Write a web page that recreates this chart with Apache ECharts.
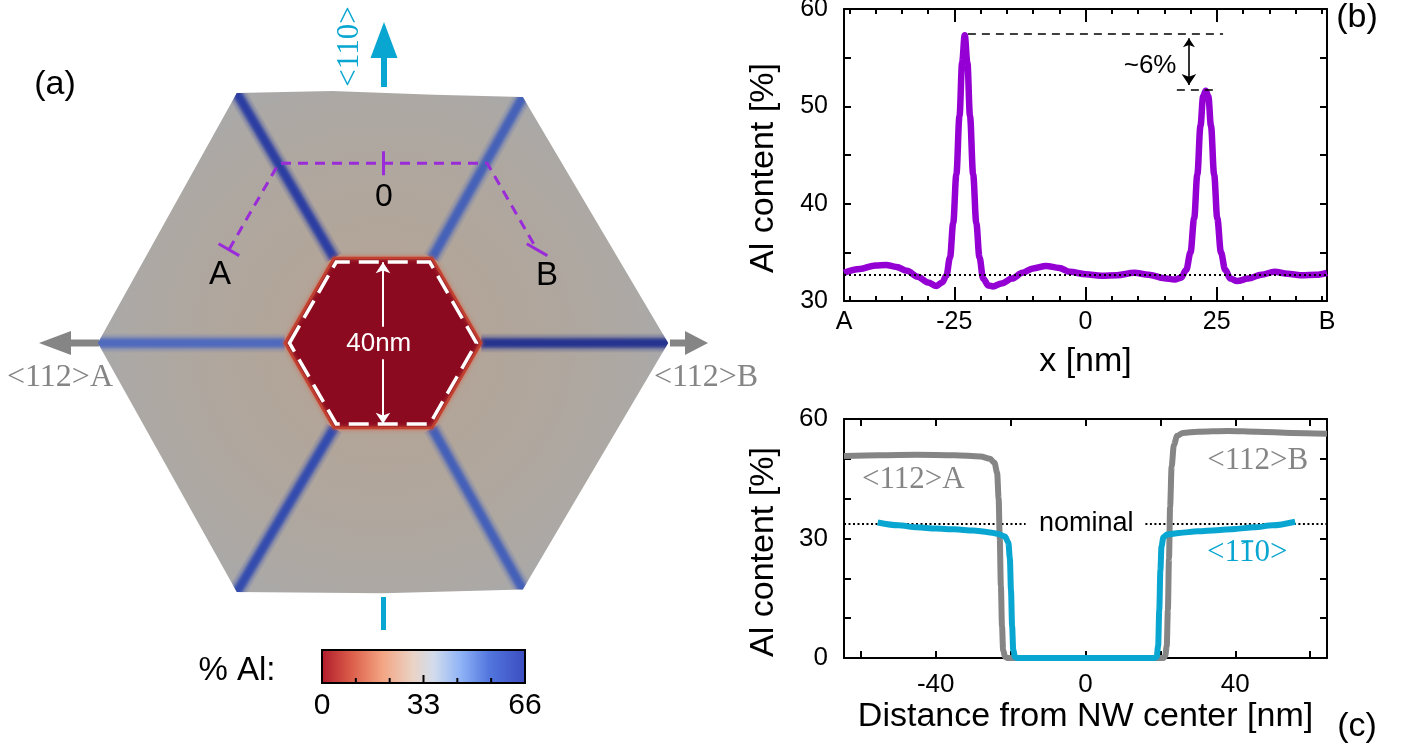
<!DOCTYPE html>
<html>
<head>
<meta charset="utf-8">
<script src="https://cdn.jsdelivr.net/npm/echarts@6/dist/echarts.min.js"></script>
<style>
  html, body { margin: 0; background: #fff; }
  #chart { width: 1406px; height: 749px; }
</style>
</head>
<body>
<div id="chart"></div>
<script>
const SANS = "'Liberation Sans', Arial, Helvetica, sans-serif";
const SERIF = "'Liberation Serif', 'Times New Roman', Times, serif";
const PURPLE = '#9400d3';
const CYAN = '#08a6d0';
const GREY = '#858585';

// (b) Al content along the dashed path A - 0 - B
const abX = [-46, -43, -40, -38, -36, -34, -32, -30, -28.4, -27.3, -26.5, -25.8, -25.2, -24.6, -24.0, -23.5, -23.0,
  -22.5, -22.0, -21.4, -20.8, -20.2, -19.5, -18.5, -17.6, -16, -14, -12, -10, -7.5, -5, -3, 0, 3, 6, 9.3, 12, 15,
  17, 18.2, 19.2, 20.0, 20.7, 21.3, 21.9, 22.4, 22.9, 23.4, 23.9, 24.5, 25.1, 25.8, 26.6, 27.6, 28.9, 31, 33.5,
  36, 38.5, 41, 44, 46];
const abAl = [32.9, 33.3, 33.65, 33.7, 33.5, 33.1, 32.5, 31.9, 31.55, 31.9, 32.6, 34.5, 38, 43, 49, 54.5, 57.3,
  54.5, 49, 43, 38, 34.5, 32.3, 31.6, 31.5, 31.8, 32.3, 32.9, 33.35, 33.6, 33.4, 33.0, 32.75, 32.6, 32.65, 32.9,
  32.7, 32.35, 32.2, 32.4, 33.2, 35, 38.5, 43, 48, 51, 51.6, 51, 48, 43, 38.5, 35, 33.2, 32.3, 32.05, 32.3, 32.7,
  33.0, 32.8, 32.65, 32.7, 32.9];
const abNominal = 32.7;
const abRange = [-46, 46];
const abLabelAt = [-46, -25, 0, 25, 46];
const abLabelText = ['A', '-25', '0', '25', 'B'];
const abMinorTicks = [-45, -40, -35, -30, -25, -20, -15, -10, -5, 0, 5, 10, 15, 20, 25, 30, 35, 40, 45];
const abMajorTicks = [-25, 0, 25];
const abPeakGuides = [[[-22.4, 57.43], [26.2, 57.43]], [[17.4, 51.74], [25.0, 51.74]]];
const abDiffArrow = [[19.7, 57.0], [19.7, 52.2]];

// (c) Al content from the wire centre
const r112X = [-64.5, -55, -45, -35, -28, -25.5, -24.3, -23.6, -23.2, -22.9, -22.6, -22.3, -22.0, -21.5, -20.8,
  20.8, 21.3, 21.7, 22.0, 22.3, 22.6, 23.0, 23.6, 24.5, 26, 30, 38, 46, 55, 64.5];
const r112Al = [50.7, 50.9, 51.0, 50.9, 50.6, 50.0, 49.0, 46.5, 40, 30, 18, 8, 2, 0.3, 0,
  0, 0.5, 3, 12, 25, 38, 48, 53.5, 55.8, 56.5, 56.8, 57.0, 56.8, 56.5, 56.3];
const r110X = [-55.5, -50, -45, -40, -35, -30, -26, -23.5, -21.5, -20.6, -20.2, -19.9, -19.6, -19.3, -18.8, -18.2,
  18.5, 19.0, 19.4, 19.7, 20.0, 20.3, 20.8, 21.8, 25, 30, 35, 40, 45, 50, 56];
const r110Al = [34.0, 33.3, 32.8, 32.5, 32.3, 32.0, 31.6, 31.2, 30.5, 29, 25, 17, 8, 2, 0.2, 0,
  0, 0.3, 3, 12, 22, 28, 30.3, 31.0, 31.4, 31.8, 32.1, 32.4, 32.8, 33.3, 34.2];
const rNominal = 33.7;
const rNominalGap = [-16, 16];
const rRange = [-64.5, 64.5];
const rTicks = [-60, -40, -20, 0, 20, 40, 60];
const rLabels = [-40, 0, 40];

// (a) cross-section, nm from the wire centre; vertex order L, TL, TR, R, BR, BL
const outerVerts = [[-67.1, 0], [-34.4, 58.8], [32.9, 57.9], [67.1, 0], [32.9, -58.0], [-34.4, -58.6]];
const innerVerts = [[-23.1, 0], [-11.55, 20], [11.55, 20], [23.1, 0], [11.55, -20], [-11.55, -20]];
const dashedCore = [[-22.0, 0], [-11.0, 19.05], [11.0, 19.05], [22.0, 0], [11.0, -19.05], [-11.0, -19.05]];
const edgeBends = [[], [[-12, 59.3], [12, 58.4]], [], [], [[0, -58.9]], []];
const stripeColors = ['#4f69bd', '#2c3ea2', '#4561b8', '#26348f', '#4560b8', '#344cae'];
const scanPath = [[-36.25, 21.95], [-24.5, 42.3], [24.5, 42.3], [36.25, 21.95]];
const scanCaps = [
  [[-38.67, 23.35], [-33.83, 20.55]],
  [[33.83, 23.35], [38.67, 20.55]],
  [[0, 45.1], [0, 39.5]]
];
const sizeArrows = [[[0, 3.8], [0, 19.0]], [[0, -3.8], [0, -19.0]]];
const colorbarTicks = ['0', '33', '66'];

const axisLine = { show: true, onZero: false, lineStyle: { color: '#000', width: 2 } };
const noLine = { show: false, onZero: false };
const noSplit = { show: false };

function tick(values, len) {
  return { show: true, inside: true, length: len, customValues: values, lineStyle: { color: '#000', width: 2 } };
}

function plainAxis(grid, pos, range, ticks, len, showLine) {
  return {
    gridIndex: grid, type: 'value', position: pos, min: range[0], max: range[1],
    axisLine: showLine ? axisLine : noLine, splitLine: noSplit,
    axisTick: tick(ticks, len), axisLabel: { show: false }
  };
}

function textSeries(xi, yi, items) {
  return {
    type: 'custom', xAxisIndex: xi, yAxisIndex: yi, silent: true, clip: false, z: 20,
    data: items.map(t => [t.x, t.y]),
    renderItem: (params, api) => {
      const t = items[params.dataIndex];
      const p = api.coord([api.value(0), api.value(1)]);
      const children = [{
        type: 'text', x: p[0], y: p[1],
        style: { text: t.text, fontSize: t.size, fontFamily: t.font || SANS, fill: t.color || '#000',
          align: 'center', verticalAlign: 'middle' }
      }];
      if (t.bar) {
        children.push({ type: 'line', shape: { x1: p[0] - 6, y1: p[1] - 12, x2: p[0] + 6, y2: p[1] - 12 },
          style: { stroke: t.color, lineWidth: 2 } });
      }
      return { type: 'group', children };
    }
  };
}

function segSeries(xi, yi, segs, style, extra) {
  return Object.assign({
    type: 'lines', coordinateSystem: 'cartesian2d', xAxisIndex: xi, yAxisIndex: yi, silent: true,
    data: segs.map(s => ({ coords: s })), lineStyle: Object.assign({ opacity: 1, curveness: 0 }, style),
    symbol: 'none', z: 5
  }, extra || {});
}

function rgba(hex, a) {
  const n = parseInt(hex.slice(1), 16);
  return 'rgba(' + (n >> 16) + ',' + ((n >> 8) & 255) + ',' + (n & 255) + ',' + a + ')';
}

function shellOutline() {
  const pts = [];
  outerVerts.forEach((v, i) => { pts.push(v); edgeBends[i].forEach(b => pts.push(b)); });
  return pts;
}

function label(text, x, y, size, extra) {
  return {
    type: 'text', x, y, rotation: (extra && extra.rotation) || 0,
    style: { text, fontSize: size, fontFamily: (extra && extra.font) || SANS, fill: (extra && extra.color) || '#000',
      align: 'center', verticalAlign: 'middle' }
  };
}

const pair = (xs, ys) => xs.map((x, i) => [x, ys[i]]);

const option = {
  animation: false,
  backgroundColor: '#fff',
  grid: [
    { left: 844, top: 9, width: 483, height: 292, outerBoundsMode: 'none' },
    { left: 844, top: 419, width: 483, height: 239, outerBoundsMode: 'none' },
    { left: 21.75, top: 3, width: 722.5, height: 680, outerBoundsMode: 'none' }
  ],
  xAxis: [
    {
      gridIndex: 0, type: 'value', position: 'bottom', min: abRange[0], max: abRange[1],
      axisLine, splitLine: noSplit, axisTick: tick(abMinorTicks, 5),
      axisLabel: {
        customValues: abLabelAt, formatter: v => abLabelText[abLabelAt.indexOf(v)],
        fontSize: 25, color: '#000', fontFamily: SANS, margin: 9, showMinLabel: true, showMaxLabel: true
      },
      name: 'x [nm]', nameLocation: 'middle', nameGap: 44,
      nameTextStyle: { fontSize: 34, color: '#000', fontFamily: SANS }
    },
    plainAxis(0, 'bottom', abRange, abMajorTicks, 14, false),
    plainAxis(0, 'top', abRange, abMinorTicks, 5, true),
    plainAxis(0, 'top', abRange, abMajorTicks, 13, false),
    {
      gridIndex: 1, type: 'value', position: 'bottom', min: rRange[0], max: rRange[1],
      axisLine, splitLine: noSplit, axisTick: tick(rTicks, 7),
      axisLabel: { customValues: rLabels, fontSize: 26, color: '#000', fontFamily: SANS, margin: 14 },
      name: 'Distance from NW center [nm]', nameLocation: 'middle', nameGap: 42,
      nameTextStyle: { fontSize: 34, color: '#000', fontFamily: SANS }
    },
    plainAxis(1, 'top', rRange, rTicks, 7, true),
    { gridIndex: 2, type: 'value', min: -85, max: 85, show: false }
  ],
  yAxis: [
    {
      gridIndex: 0, type: 'value', position: 'left', min: 30, max: 60, interval: 5,
      axisLine, splitLine: noSplit, axisTick: { show: true, inside: true, length: 7, lineStyle: { color: '#000', width: 2 } },
      axisLabel: { formatter: v => (v % 10 === 0 ? String(v) : ''), fontSize: 25, color: '#000', fontFamily: SANS, margin: 16 }
    },
    {
      gridIndex: 0, type: 'value', position: 'right', min: 30, max: 60, interval: 5,
      axisLine, splitLine: noSplit, axisTick: { show: true, inside: true, length: 7, lineStyle: { color: '#000', width: 2 } },
      axisLabel: { show: false }
    },
    {
      gridIndex: 1, type: 'value', position: 'left', min: 0, max: 60, interval: 10,
      axisLine, splitLine: noSplit, axisTick: { show: true, inside: true, length: 7, lineStyle: { color: '#000', width: 2 } },
      axisLabel: { formatter: v => (v % 30 === 0 ? String(v) : ''), fontSize: 26, color: '#000', fontFamily: SANS, margin: 16 }
    },
    {
      gridIndex: 1, type: 'value', position: 'right', min: 0, max: 60, interval: 10,
      axisLine, splitLine: noSplit, axisTick: { show: true, inside: true, length: 7, lineStyle: { color: '#000', width: 2 } },
      axisLabel: { show: false }
    },
    { gridIndex: 2, type: 'value', min: -80, max: 80, show: false }
  ],
  series: [
    // ---------- (b)
    {
      type: 'line', xAxisIndex: 0, yAxisIndex: 0, data: pair(abX, abAl), symbol: 'none',
      smooth: 0.35, smoothMonotone: 'x', lineStyle: { color: PURPLE, width: 6.5 }, z: 3
    },
    segSeries(0, 0, [[[abRange[0], abNominal], [abRange[1], abNominal]]], { color: '#000', width: 2, type: [2, 3] }, { z: 6 }),
    segSeries(0, 0, abPeakGuides, { color: '#000', width: 1.6, type: [8, 6] }),
    segSeries(0, 0, [abDiffArrow], { color: '#000', width: 1.6 }, { symbol: ['arrow', 'arrow'], symbolSize: [9, 11] }),
    textSeries(0, 0, [{ x: 12.3, y: 54.2, text: '~6%', size: 26 }]),

    // ---------- (c)
    segSeries(4, 2, [[[rRange[0], rNominal], [rNominalGap[0], rNominal]], [[rNominalGap[1], rNominal], [rRange[1], rNominal]]],
      { color: '#000', width: 2, type: [2, 2.5] }, { z: 2 }),
    {
      type: 'line', xAxisIndex: 4, yAxisIndex: 2, data: pair(r112X, r112Al), symbol: 'none',
      smooth: 0.3, smoothMonotone: 'x', lineStyle: { color: GREY, width: 6 }, z: 3
    },
    {
      type: 'line', xAxisIndex: 4, yAxisIndex: 2, data: pair(r110X, r110Al), symbol: 'none',
      smooth: 0.3, smoothMonotone: 'x', lineStyle: { color: CYAN, width: 6 }, z: 4
    },
    textSeries(4, 2, [
      { x: 0.2, y: rNominal, text: 'nominal', size: 27 },
      { x: -46, y: 44.7, text: '<112>A', size: 31, font: SERIF, color: GREY },
      { x: 46, y: 49.5, text: '<112>B', size: 31, font: SERIF, color: GREY },
      { x: 43.2, y: 26.3, text: '<110>', size: 31, font: SERIF, color: CYAN, bar: true }
    ]),

    // ---------- (a)
    {
      type: 'custom', xAxisIndex: 6, yAxisIndex: 4, data: [0], silent: true, clip: false, z: 1,
      renderItem: (params, api) => {
        const pts = shellOutline().map(p => api.coord(p));
        const c = api.coord([0, 0]);
        return {
          type: 'polygon', shape: { points: pts },
          style: {
            fill: new echarts.graphic.RadialGradient(c[0], c[1], 300, [
              { offset: 0, color: '#b6a293' }, { offset: 0.45, color: '#b1a69b' },
              { offset: 0.8, color: '#ada8a3' }, { offset: 1, color: '#a8a9ab' }
            ], true)
          }
        };
      }
    },
    {
      type: 'custom', xAxisIndex: 6, yAxisIndex: 4, data: [0, 1, 2, 3, 4, 5], silent: true, clip: false, z: 2,
      renderItem: (params, api) => {
        const i = params.dataIndex;
        const I = api.coord(innerVerts[i]);
        const V = api.coord(outerVerts[i]);
        const len = Math.hypot(V[0] - I[0], V[1] - I[1]);
        const d = [(V[0] - I[0]) / len, (V[1] - I[1]) / len];
        const n = [-d[1], d[0]];
        const w = 10, t = w / Math.tan(Math.PI / 3);
        const col = stripeColors[i];
        const pts = [
          [I[0] + w * n[0], I[1] + w * n[1]],
          [V[0] - t * d[0] + w * n[0], V[1] - t * d[1] + w * n[1]],
          V,
          [V[0] - t * d[0] - w * n[0], V[1] - t * d[1] - w * n[1]],
          [I[0] - w * n[0], I[1] - w * n[1]]
        ];
        return {
          type: 'polygon', shape: { points: pts },
          style: {
            fill: new echarts.graphic.LinearGradient(
              I[0] + w * n[0], I[1] + w * n[1], I[0] - w * n[0], I[1] - w * n[1], [
                { offset: 0, color: rgba(col, 0) }, { offset: 0.18, color: rgba(col, 0.3) },
                { offset: 0.33, color: rgba(col, 0.85) }, { offset: 0.42, color: rgba(col, 1) },
                { offset: 0.58, color: rgba(col, 1) }, { offset: 0.67, color: rgba(col, 0.85) },
                { offset: 0.82, color: rgba(col, 0.3) }, { offset: 1, color: rgba(col, 0) }
              ], true)
          }
        };
      }
    },
    {
      type: 'custom', xAxisIndex: 6, yAxisIndex: 4, data: [0], silent: true, clip: false, z: 3,
      renderItem: (params, api) => ({
        type: 'group', children: [
          {
            type: 'polygon', shape: { points: innerVerts.map(p => api.coord(p)) },
            style: { fill: '#8c0a1f', stroke: '#c2402f', lineWidth: 2.5, shadowBlur: 4, shadowColor: 'rgba(215,100,75,0.8)' }
          },
          {
            type: 'polygon', shape: { points: dashedCore.map(p => api.coord(p)) },
            style: { fill: 'none', stroke: '#fff', lineWidth: 3.5, lineDash: [20, 9] }
          }
        ]
      })
    },
    segSeries(6, 4, sizeArrows, { color: '#fff', width: 2 }, { symbol: ['none', 'arrow'], symbolSize: [8, 11], z: 8 }),
    segSeries(6, 4, [scanPath], { color: '#9a2bd8', width: 3, type: [10, 7] }, { polyline: true, z: 8 }),
    segSeries(6, 4, scanCaps, { color: '#9a2bd8', width: 3 }, { z: 8 }),
    textSeries(6, 4, [
      { x: 0.2, y: 34.2, text: '0', size: 32 },
      { x: -38.35, y: 16.1, text: 'A', size: 33 },
      { x: 38.6, y: 15.8, text: 'B', size: 33 },
      { x: -1, y: -0.2, text: '40nm', size: 26, color: '#fff' }
    ])
  ],
  graphic: {
    elements: [
      // axis titles of (b) and (c)
      label('Al content [%]', 764, 168, 34, { rotation: Math.PI / 2 }),
      label('Al content [%]', 764, 552, 34, { rotation: Math.PI / 2 }),
      // direction arrows round the cross-section
      { type: 'rect', shape: { x: 381, y: 55, width: 6, height: 32 }, style: { fill: CYAN } },
      { type: 'polygon', shape: { points: [[384, 22], [370.5, 58], [397.5, 58]] }, style: { fill: CYAN } },
      { type: 'rect', shape: { x: 381, y: 597, width: 5, height: 33 }, style: { fill: CYAN } },
      label('<110>', 349.5, 46.5, 31, { rotation: Math.PI / 2, font: SERIF, color: CYAN }),
      { type: 'rect', shape: { x: 70, y: 339.5, width: 29, height: 7 }, style: { fill: GREY } },
      { type: 'polygon', shape: { points: [[39, 343], [71, 331], [71, 355]] }, style: { fill: GREY } },
      { type: 'rect', shape: { x: 670, y: 339.5, width: 16, height: 7 }, style: { fill: GREY } },
      { type: 'polygon', shape: { points: [[708, 343], [685, 331], [685, 355]] }, style: { fill: GREY } },
      label('<112>A', 60, 378, 32, { font: SERIF, color: GREY }),
      label('<112>B', 706, 378, 32, { font: SERIF, color: GREY }),
      // panel letters
      label('(a)', 55, 85, 34),
      label('(b)', 1357, 18, 34),
      label('(c)', 1357, 727, 34),
      // colour bar
      label('% Al:', 237, 671, 33),
      {
        type: 'rect', shape: { x: 322, y: 650, width: 203, height: 33 },
        style: {
          fill: new echarts.graphic.LinearGradient(0, 0, 1, 0, [
            { offset: 0, color: '#b01a2a' }, { offset: 0.15, color: '#dc5e4b' }, { offset: 0.3, color: '#f3a583' },
            { offset: 0.45, color: '#ead3c6' }, { offset: 0.55, color: '#d2dcec' }, { offset: 0.68, color: '#90b4f6' },
            { offset: 0.82, color: '#5276de' }, { offset: 1, color: '#3b4cc0' }
          ]),
          stroke: '#000', lineWidth: 2
        }
      },
      ...[1, 2, 3, 4, 5].map(k => ({
        type: 'line', shape: { x1: 322 + 203 * k / 6, y1: 683, x2: 322 + 203 * k / 6, y2: k === 3 ? 675 : 678 },
        style: { stroke: '#000', lineWidth: 2 }
      })),
      ...colorbarTicks.map((t, k) => label(t, 322 + 101.5 * k, 706, 30))
    ]
  }
};

const chart = echarts.init(document.getElementById('chart'));
chart.setOption(option);
</script>
</body>
</html>
